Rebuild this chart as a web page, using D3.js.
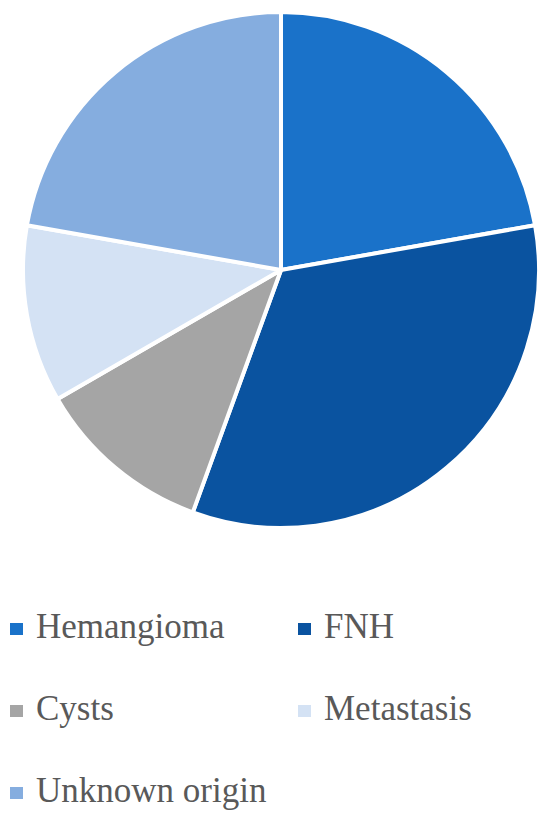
<!DOCTYPE html>
<html>
<head>
<meta charset="utf-8">
<script src="https://cdn.jsdelivr.net/npm/d3@7"></script>
<style>
  body { margin: 0; background: #fff; }
</style>
</head>
<body>
<div id="chart"></div>
<script>
const width = 550,
    height = 821

const categories = ["Hemangioma", "FNH", "Cysts", "Metastasis", "Unknown origin"]
const values = [8, 12, 4, 4, 8]
const colors = ["#1a72c9", "#0a53a0", "#a5a5a5", "#d4e2f4", "#85addf"]

var svg = d3.select("#chart")
    .append("svg")
    .attr("width", width)
    .attr("height", height)

var color = d3.scaleOrdinal().domain(categories).range(colors)

var pie = d3.pie().sort(null).value(d => d.value)
var arc = d3.arc().innerRadius(0).outerRadius(258)

var data = categories.map((c, i) => ({ name: c, value: values[i] }))

var g = svg.append("g")
    .attr("transform", "translate(281,270)")

g.selectAll("path")
    .data(pie(data))
    .enter()
    .append("path")
    .attr("d", arc)
    .attr("fill", d => color(d.data.name))
    .attr("stroke", "#fff")
    .attr("stroke-width", 4)
    .attr("stroke-linejoin", "round")

// legend, two columns
var legend = svg.append("g")
    .selectAll("g")
    .data(data)
    .enter()
    .append("g")
    .attr("transform", (d, i) => `translate(${i % 2 ? 298 : 10},${638 + Math.floor(i / 2) * 82})`)

legend.append("rect")
    .attr("x", 0)
    .attr("y", -15)
    .attr("width", 13)
    .attr("height", 12)
    .attr("fill", d => color(d.name))

legend.append("text")
    .attr("x", 26)
    .attr("y", 0)
    .attr("font-family", "'Liberation Serif', serif")
    .attr("font-size", 35)
    .attr("fill", "#595959")
    .text(d => d.name)
</script>
</body>
</html>
